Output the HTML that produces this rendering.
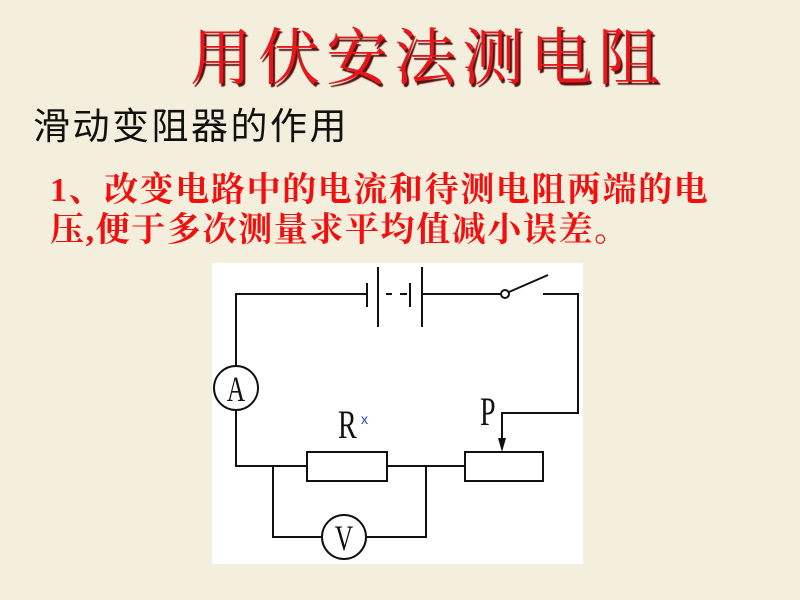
<!DOCTYPE html>
<html><head><meta charset="utf-8"><style>
body{margin:0;width:800px;height:600px;background:#f4efdc;position:relative;overflow:hidden;font-family:"Liberation Sans","Noto Sans CJK SC",sans-serif}
.t{position:absolute;white-space:nowrap}
</style></head><body>
<div class="t" style="left:190px;top:8px;font-size:62px;letter-spacing:6px;color:#e8161a;text-shadow:2px 3px 1px #5a1010;font-family:'Noto Serif CJK SC',serif">用伏安法测电阻</div>
<div class="t" style="left:33px;top:96px;font-size:37px;letter-spacing:2.5px;color:#111">滑动变阻器的作用</div>
<div class="t" style="left:50px;top:162px;font-size:34px;letter-spacing:1.6px;color:#f01010;font-weight:bold;font-family:'Liberation Serif','Noto Serif CJK SC',serif">1、改变电路中的电流和待测电阻两端的电</div>
<div class="t" style="left:50px;top:202px;font-size:34px;letter-spacing:1.6px;color:#f01010;font-weight:bold;font-family:'Liberation Serif','Noto Serif CJK SC',serif">压,便于多次测量求平均值减小误差。</div>
<svg style="position:absolute;left:0;top:0" width="800" height="600">
<rect x="212" y="263" width="371" height="301" fill="#fff"/>
<g stroke="#111" stroke-width="2" fill="none">
<polyline points="367,294 236,294 236,366"/>
<line x1="367" y1="283" x2="367" y2="307"/>
<line x1="378" y1="267" x2="378" y2="327"/>
<line x1="386" y1="294" x2="392" y2="294"/>
<line x1="400" y1="294" x2="407" y2="294"/>
<line x1="410" y1="283" x2="410" y2="307"/>
<line x1="422" y1="267" x2="422" y2="327"/>
<line x1="422" y1="294" x2="501" y2="294"/>
<circle cx="505" cy="294" r="4"/>
<line x1="509" y1="292" x2="548" y2="275"/>
<polyline points="543,294 578,294 578,413 502,413 502,440"/>
<circle cx="236" cy="388" r="22"/>
<polyline points="236,410 236,466 307,466"/>
<rect x="307" y="452" width="80" height="29"/>
<line x1="387" y1="466" x2="465" y2="466"/>
<rect x="465" y="452" width="78" height="29"/>
<polyline points="273,466 273,537 322,537"/>
<polyline points="426,466 426,537 366,537"/>
<circle cx="344" cy="537" r="22"/>
</g>
<polygon points="498,438 506,438 502,452" fill="#111"/>
<g font-family="Liberation Serif,serif" fill="#111">
<text x="236" y="401" font-size="36" text-anchor="middle" transform="translate(236 401) scale(0.7 1) translate(-236 -401)">A</text>
<text x="344" y="550" font-size="36" text-anchor="middle" transform="translate(344 550) scale(0.7 1) translate(-344 -550)">V</text>
<text x="338" y="438" font-size="40" transform="translate(338 438) scale(0.7 1) translate(-338 -438)">R</text>
<text x="480" y="425" font-size="40" transform="translate(480 425) scale(0.7 1) translate(-480 -425)">P</text>
</g>
<text x="361" y="424" font-size="14" fill="#2244cc" font-family="Liberation Sans,sans-serif">x</text>
</svg>
</body></html>
